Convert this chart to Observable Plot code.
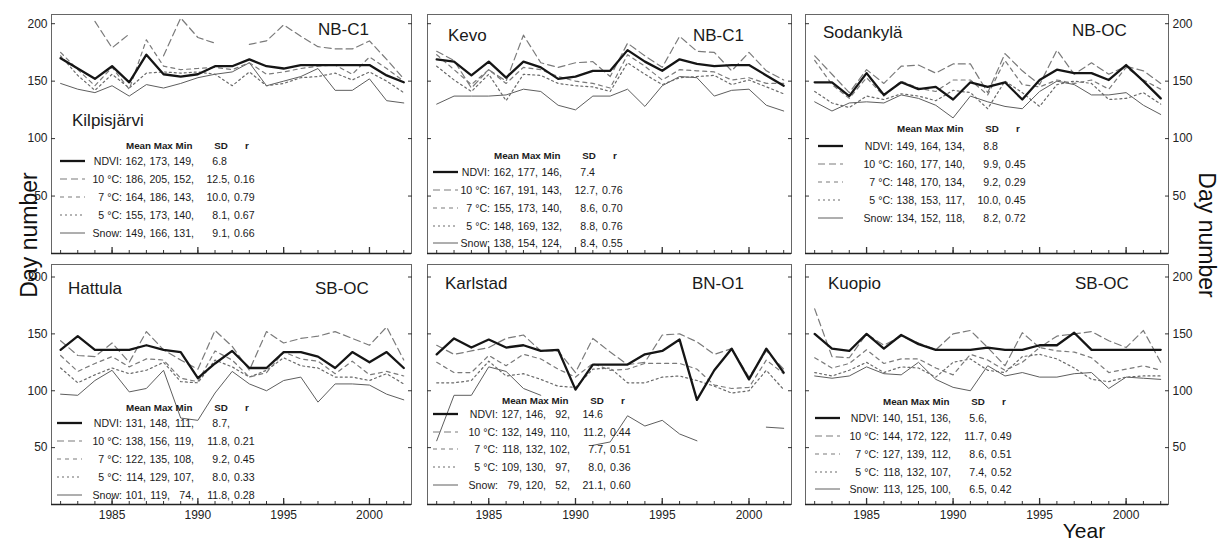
<!DOCTYPE html>
<html><head><meta charset="utf-8">
<script src="https://cdn.jsdelivr.net/npm/d3@7"></script>
<script src="https://cdn.jsdelivr.net/npm/@observablehq/plot@0.6"></script>
<style>
body{margin:0;background:#fff;}
#chart{position:relative;width:1220px;height:541px;overflow:hidden;background:#fff;font-family:Arial,"Liberation Sans",sans-serif;}
#chart svg{position:absolute;overflow:visible;}
</style></head><body><div id="chart"></div>
<script>
// ---------------- data ----------------
const years = [1982,1983,1984,1985,1986,1987,1988,1989,1990,1991,1992,1993,1994,1995,1996,1997,1998,1999,2000,2001,2002];
const majorYears = [1985,1990,1995,2000];
const yTicks = [50,100,150,200];
const seriesKeys = ["NDVI","10 °C","7 °C","5 °C","Snow"];
const legendLabels = ["NDVI:","10 °C:","7 °C:","5 °C:","Snow:"];
const headerWords = ["Mean Max Min","SD","r"];
const stationNames = ["Kilpisjärvi","Kevo","Sodankylä","Hattula","Karlstad","Kuopio"];
const stationCodes = ["NB-C1","NB-C1","NB-OC","SB-OC","BN-O1","SB-OC"];

const kilpisNDVI = [170,161,152,163,149,173,156,154,156,163,163,169,163,161,164,164,164,164,164,155,149];
const kilpis10   = [null,null,202,179,191,null,172,205,188,183,null,182,185,199,189,180,178,178,185,169,152];
const kilpis7    = [175,160,146,162,143,186,163,160,161,162,160,166,156,158,161,163,164,156,171,161,150];
const kilpis5    = [172,155,142,156,144,157,158,157,158,156,146,158,146,148,153,154,157,151,158,150,140];
const kilpisSnow = [148,143,140,146,137,147,144,148,153,156,158,166,146,150,154,161,142,142,152,133,131];

const kevoNDVI = [169,167,155,167,153,167,162,152,154,159,159,177,167,159,169,165,163,164,164,155,146];
const kevo10   = [176,168,144,160,150,190,166,162,166,167,154,183,172,162,189,176,175,159,175,159,151];
const kevo7    = [173,160,147,160,148,162,160,154,150,148,144,173,163,151,160,159,158,151,153,148,148];
const kevo5    = [163,151,141,156,133,156,155,148,146,145,141,166,156,147,153,154,155,147,151,145,139];
const kevoSnow = [130,137,137,137,138,143,141,129,125,137,137,143,128,146,154,153,137,142,143,129,124];

const sodNDVI = [149,149,137,157,138,149,143,145,134,149,145,149,134,151,160,157,157,151,164,150,135];
const sod10   = [172,156,140,160,148,163,164,157,165,165,140,174,159,147,177,156,166,156,163,159,148];
const sod7    = [168,147,135,153,137,150,144,141,151,151,138,168,147,145,151,148,151,143,162,151,143];
const sod5    = [141,131,127,137,134,139,137,133,142,140,126,150,140,128,147,150,148,134,135,140,130];
const sodSnow = [132,124,131,132,131,138,135,129,118,137,132,128,126,141,150,147,138,138,140,129,121];

const hatNDVI = [136,148,136,136,136,140,136,134,111,124,135,120,120,134,134,130,120,134,125,134,120];
const hat10   = [144,131,130,142,125,152,136,127,119,153,139,118,152,142,146,148,152,146,140,156,127];
const hat7    = [131,117,124,130,121,128,127,111,108,135,127,112,116,134,128,126,115,126,114,117,113];
const hat5    = [120,107,114,120,115,118,125,108,107,127,121,112,118,129,122,120,112,112,109,115,106];
const hatSnow = [97,96,109,118,99,102,118,76,74,98,117,106,100,109,112,90,106,106,105,97,92];

const karNDVI = [132,146,138,145,138,140,135,136,101,123,123,123,132,135,145,92,118,137,110,137,116];
const kar10   = [140,132,135,138,146,149,135,135,116,146,134,123,125,149,150,143,132,137,112,135,119];
const kar7    = [125,116,116,131,122,132,128,119,112,124,118,119,124,124,124,119,105,102,103,127,115];
const kar5    = [107,107,109,126,113,115,110,104,103,119,120,107,107,112,113,109,104,98,100,118,101];
const karSnow = [56,96,96,121,117,102,96,null,null,52,55,78,69,74,62,56,null,null,null,68,67];

const kuoNDVI = [150,137,135,150,137,149,141,136,136,136,138,136,136,140,140,151,136,136,136,136,136];
const kuo10   = [172,130,129,150,140,148,142,136,150,153,138,122,151,138,148,150,152,144,138,153,125];
const kuo7    = [129,120,124,136,124,128,128,120,114,132,127,118,125,138,135,134,129,116,119,122,118];
const kuo5    = [116,113,118,125,116,121,120,112,125,128,118,116,130,132,128,120,110,108,112,113,113];
const kuoSnow = [113,111,113,121,115,114,125,110,103,100,122,113,116,112,112,115,116,102,112,111,110];

// legend statistics (Mean, Max, Min, SD, r) as printed
const kilpisStats = [["162,","173,","149,","6.8",""],["186,","205,","152,","12.5,","0.16"],["164,","186,","143,","10.0,","0.79"],["155,","173,","140,","8.1,","0.67"],["149,","166,","131,","9.1,","0.66"]];
const kevoStats   = [["162,","177,","146,","7.4",""],["167,","191,","143,","12.7,","0.76"],["155,","173,","140,","8.6,","0.70"],["148,","169,","132,","8.8,","0.76"],["138,","154,","124,","8.4,","0.55"]];
const sodStats    = [["149,","164,","134,","8.8",""],["160,","177,","140,","9.9,","0.45"],["148,","170,","134,","9.2,","0.29"],["138,","153,","117,","10.0,","0.45"],["134,","152,","118,","8.2,","0.72"]];
const hatStats    = [["131,","148,","111,","8.7,",""],["138,","156,","119,","11.8,","0.21"],["122,","135,","108,","9.2,","0.45"],["114,","129,","107,","8.0,","0.33"],["101,","119,","74,","11.8,","0.28"]];
const karStats    = [["127,","146,","92,","14.6",""],["132,","149,","110,","11.2,","0.44"],["118,","132,","102,","7.7,","0.51"],["109,","130,","97,","8.0,","0.36"],["79,","120,","52,","21.1,","0.60"]];
const kuoStats    = [["140,","151,","136,","5.6,",""],["144,","172,","122,","11.7,","0.49"],["127,","139,","112,","8.6,","0.51"],["118,","132,","107,","7.4,","0.52"],["113,","125,","100,","6.5,","0.42"]];

// ---------------- styles & layout ----------------
const FONT = 'Arial, "Liberation Sans", sans-serif';
const sty = {
  "NDVI":  {stroke:"#151515", w:2.3, dash:null},
  "10 °C": {stroke:"#7a7a7a", w:1.2, dash:"7,4"},
  "7 °C":  {stroke:"#7a7a7a", w:1.2, dash:"4,4"},
  "5 °C":  {stroke:"#6a6a6a", w:1.2, dash:"2,3"},
  "Snow":  {stroke:"#5e5e5e", w:1.0, dash:null}
};
const cols = [{left:51, w:360},{left:427, w:364},{left:805, w:363}];
const rowsL = [{top:14, h:239, ymax:208},{top:264, h:240, ymax:211}];
const xDomain = [1981.47, 2002.45];
const mL = 40, mR = 40, mT = 4, mB = 30;

const stations = [
  {vals:[kilpisNDVI,kilpis10,kilpis7,kilpis5,kilpisSnow], stats:kilpisStats, col:0,row:0, name:[72,126], code:[318,35], s:125, lx:60,  hy:145, ry:[161,179,197,215,233]},
  {vals:[kevoNDVI,kevo10,kevo7,kevo5,kevoSnow],           stats:kevoStats,   col:1,row:0, name:[448,41], code:[693,41], s:493, lx:433, hy:155, ry:[172,190,208,226,243]},
  {vals:[sodNDVI,sod10,sod7,sod5,sodSnow],                stats:sodStats,    col:2,row:0, name:[823,38], code:[1072,36], s:896, lx:818, hy:128, ry:[146,164,182,200,218]},
  {vals:[hatNDVI,hat10,hat7,hat5,hatSnow],                stats:hatStats,    col:0,row:1, name:[68,294], code:[315,294], s:125, lx:57,  hy:407, ry:[423,441,459,477,495]},
  {vals:[karNDVI,kar10,kar7,kar5,karSnow],                stats:karStats,    col:1,row:1, name:[445,289], code:[692,289], s:501, lx:433, hy:400, ry:[414,432,449,467,485]},
  {vals:[kuoNDVI,kuo10,kuo7,kuo5,kuoSnow],                stats:kuoStats,    col:2,row:1, name:[828,289], code:[1075,289], s:882, lx:815, hy:401, ry:[418,436,454,472,489]}
];

const chart = document.getElementById("chart");

stations.forEach((st, si) => {
  const C = cols[st.col], R = rowsL[st.row];
  const data = [];
  seriesKeys.forEach((k, j) => st.vals[j].forEach((v, i) => data.push({year: years[i], day: v, series: k})));
  const lineMarks = [...seriesKeys].reverse().map(k => Plot.line(data.filter(d => d.series === k), {
    x: "year", y: "day", stroke: sty[k].stroke, strokeWidth: sty[k].w,
    strokeDasharray: sty[k].dash || undefined, strokeLinejoin: "round"
  }));
  const marks = [
    Plot.frame({stroke: "#666", strokeWidth: 1}),
    Plot.ruleY([0], {stroke: "#222", strokeWidth: 1.4}),
    Plot.axisX({ticks: years, tickSize: -3, tickFormat: () => "", label: null, stroke: "#333"}),
    Plot.axisX({ticks: majorYears, tickSize: -6, tickFormat: () => "", label: null, stroke: "#333", strokeWidth: 1.3}),
    Plot.axisY({anchor: "left", ticks: yTicks, tickSize: -4, tickFormat: () => "", label: null, stroke: "#333"}),
    Plot.axisY({anchor: "right", ticks: yTicks, tickSize: -4, tickFormat: () => "", label: null, stroke: "#333"}),
    ...lineMarks
  ];
  if (st.row === 1) marks.push(Plot.axisX({ticks: majorYears, tickSize: 0, tickPadding: 6, tickFormat: d3.format("d"), label: null, fill: "#222"}));
  if (st.col === 0) marks.push(Plot.axisY({anchor: "left", ticks: yTicks, tickSize: 0, tickPadding: 4, label: null, fill: "#222"}));
  if (st.col === 2) marks.push(Plot.axisY({anchor: "right", ticks: yTicks, tickSize: 0, tickPadding: 4, label: null, fill: "#222"}));

  const svg = Plot.plot({
    width: C.w + mL + mR, height: R.h + mT + mB,
    marginLeft: mL, marginRight: mR, marginTop: mT, marginBottom: mB,
    x: {domain: xDomain, axis: null},
    y: {domain: [0, R.ymax], axis: null},
    style: {background: "transparent", fontFamily: FONT, fontSize: "12px", color: "#222"},
    marks
  });
  const ox = C.left - mL, oy = R.top - mT;
  svg.style.left = ox + "px";
  svg.style.top = oy + "px";
  chart.appendChild(svg);

  // annotations: station name, code, legend table
  const g = d3.select(svg).append("g").attr("font-family", FONT).attr("fill", "#1a1a1a").attr("text-anchor", "start");
  g.append("text").attr("x", st.name[0] - ox).attr("y", st.name[1] - oy).attr("font-size", 17).text(stationNames[si]);
  g.append("text").attr("x", st.code[0] - ox).attr("y", st.code[1] - oy).attr("font-size", 17).text(stationCodes[si]);

  const s = st.s - ox;
  const hb = st.hy - oy + 3.5;
  const hdr = g.append("g").attr("font-size", 9.8).attr("font-weight", "bold");
  hdr.append("text").attr("x", s + 1).attr("y", hb).text(headerWords[0]);
  hdr.append("text").attr("x", s + 96).attr("y", hb).attr("text-anchor", "middle").text(headerWords[1]);
  hdr.append("text").attr("x", s + 122).attr("y", hb).attr("text-anchor", "middle").text(headerWords[2]);

  seriesKeys.forEach((k, j) => {
    const yc = st.ry[j] - oy;
    const yb = yc + 3.8;
    g.append("line").attr("x1", st.lx - ox).attr("x2", st.lx + 25 - ox).attr("y1", yc).attr("y2", yc)
      .attr("stroke", sty[k].stroke).attr("stroke-width", sty[k].w).attr("stroke-dasharray", sty[k].dash);
    const t = g.append("g").attr("font-size", 10.6);
    t.append("text").attr("x", s - 3).attr("y", yb).attr("text-anchor", "end").text(legendLabels[j]);
    const row = st.stats[j];
    t.append("text").attr("x", s + 21).attr("y", yb).attr("text-anchor", "end").text(row[0]);
    t.append("text").attr("x", s + 45).attr("y", yb).attr("text-anchor", "end").text(row[1]);
    t.append("text").attr("x", s + 69).attr("y", yb).attr("text-anchor", "end").text(row[2]);
    t.append("text").attr("x", row[3].endsWith(",") ? s + 105 : s + 102).attr("y", yb).attr("text-anchor", "end").text(row[3]);
    if (row[4]) t.append("text").attr("x", s + 109).attr("y", yb).attr("text-anchor", "start").text(row[4]);
  });
});

// global labels
const ov = d3.select(chart).append("svg").attr("width", 1220).attr("height", 541)
  .style("left", "0px").style("top", "0px").attr("font-family", FONT).attr("fill", "#111");
ov.append("text").attr("transform", "translate(37,235) rotate(-90)").attr("text-anchor", "middle").attr("font-size", 23).text("Day number");
ov.append("text").attr("transform", "translate(1199,235) rotate(90)").attr("text-anchor", "middle").attr("font-size", 23).text("Day number");
ov.append("text").attr("x", 1084).attr("y", 538).attr("text-anchor", "middle").attr("font-size", 21).text("Year");
</script></body></html>
